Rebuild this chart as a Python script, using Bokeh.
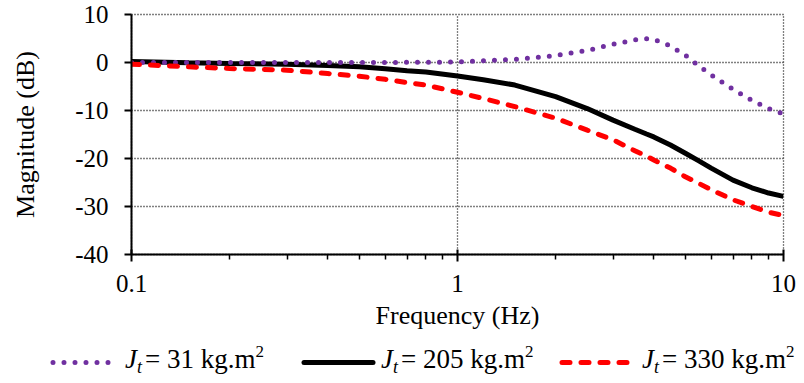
from bokeh.plotting import figure
from bokeh.models import Range1d, FixedTicker, Div
from bokeh.layouts import column
from bokeh.embed import file_html
from bokeh.resources import INLINE

# ---------------- data ----------------
freq_hz = [0.1, 0.15, 0.2, 0.3, 0.4, 0.5, 0.6, 0.7, 0.8, 1.0, 1.2, 1.5, 2.0, 2.5,
           3.0, 3.5, 3.8, 4.0, 4.5, 5.0, 5.5, 6.0, 7.0, 8.0, 9.0, 10.0]
mag_31 = [0.0, 0.0, 0.0, 0.0, 0.0, 0.0, 0.0, 0.05, 0.05, 0.1, 0.35, 0.66, 1.45, 2.5,
          3.8, 4.7, 4.95, 4.8, 3.45, 1.5, -0.7, -2.6, -5.6, -7.9, -9.6, -10.7]
mag_205 = [0.2, -0.05, -0.2, -0.35, -0.6, -0.9, -1.3, -1.7, -2.0, -2.8, -3.6, -4.7, -7.1, -9.6,
           -12.0, -13.9, -14.9, -15.5, -17.2, -18.9, -20.5, -22.0, -24.5, -26.1, -27.2, -27.9]
mag_330 = [-0.35, -0.9, -1.25, -1.6, -2.3, -2.85, -3.5, -4.2, -4.7, -6.2, -7.5, -9.2, -11.6, -14.1,
           -16.1, -18.4, -19.5, -20.3, -22.0, -23.8, -25.2, -26.5, -28.6, -30.0, -31.2, -31.9]
series_jt = ["31", "205", "330"]
series_colors = ["#7030A0", "black", "#FF0000"]

x_ticks = [0.1, 1, 10]
x_tick_labels = ["0.1", "1", "10"]
x_minor_ticks = [0.2, 0.3, 0.4, 0.5, 0.6, 0.7, 0.8, 0.9, 2, 3, 4, 5, 6, 7, 8, 9]
y_ticks = [-40, -30, -20, -10, 0, 10]
y_tick_labels = ["-40", "-30", "-20", "-10", "0", "10"]
x_title = "Frequency (Hz)"
y_title = "Magnitude (dB)"

FONT = "Liberation Serif"
W = 796
MH = 332
LH = 43

# ---------------- main plot ----------------
p = figure(width=W, height=MH, x_axis_type="log", title=None,
           x_range=Range1d(0.1, 10), y_range=Range1d(-40, 10),
           output_backend="svg", toolbar_location=None,
           min_border_left=131, min_border_right=13, min_border_top=14, min_border_bottom=77)
p.background_fill_color = "white"
p.border_fill_color = "white"
p.outline_line_color = "black"
p.outline_line_dash = "1 2"
p.outline_line_width = 1.3

xt = FixedTicker(ticks=x_ticks, minor_ticks=x_minor_ticks)
yt = FixedTicker(ticks=y_ticks)
p.xaxis.ticker = xt
p.yaxis.ticker = yt
p.xgrid.ticker = xt
p.ygrid.ticker = yt
for g in (p.xgrid, p.ygrid):
    g.grid_line_color = "black"
    g.grid_line_dash = "1 2"
    g.grid_line_width = 1.3

p.xaxis.major_label_overrides = {t: s for t, s in zip(x_ticks, x_tick_labels)}
p.yaxis.major_label_overrides = {t: s for t, s in zip(y_ticks, y_tick_labels)}

for ax in (p.xaxis, p.yaxis):
    ax.axis_line_color = "black"
    ax.axis_line_width = 2
    ax.major_tick_line_color = "black"
    ax.major_tick_line_width = 2
    ax.major_label_text_font = FONT
    ax.major_label_text_font_size = "25px"
    ax.major_label_text_color = "black"
    ax.axis_label_text_font = FONT
    ax.axis_label_text_font_size = "26px"
    ax.axis_label_text_font_style = "normal"
    ax.axis_label_text_color = "black"

p.xaxis.major_tick_in = 5
p.xaxis.major_tick_out = 7
p.xaxis.minor_tick_in = 0
p.xaxis.minor_tick_out = 5
p.xaxis.minor_tick_line_color = "black"
p.xaxis.minor_tick_line_width = 1.5
p.xaxis.major_label_standoff = 13
p.xaxis.axis_label = x_title
p.xaxis.axis_label_standoff = 6

p.yaxis.major_tick_in = 0
p.yaxis.major_tick_out = 7
p.yaxis.minor_tick_line_color = None
p.yaxis.major_label_standoff = 16
p.yaxis.axis_label = y_title
p.yaxis.axis_label_standoff = 32

p.line(freq_hz, mag_205, line_color=series_colors[1], line_width=5)
p.line(freq_hz, mag_31, line_color=series_colors[0], line_width=5,
       line_dash="0 11", line_cap="round")
p.line(freq_hz, mag_330, line_color=series_colors[2], line_width=5,
       line_dash="8 11", line_cap="round")

# ---------------- legend strip (HTML text, SVG swatches) ----------------
swatch_x = [(53, 113), (304, 373), (562, 632)]
text_x = [125, 381, 642]
swatch_dash = ["0 11", "", "8 11"]
yc = 30.5
text_top = 13.5

svg_lines = []
for (x0, x1), col, dash in zip(swatch_x, series_colors, swatch_dash):
    da = f' stroke-dasharray="{dash}"' if dash else ""
    svg_lines.append(
        f'<line x1="{x0}" y1="{yc}" x2="{x1}" y2="{yc}" stroke="{col}" '
        f'stroke-width="5" stroke-linecap="round"{da}/>')
svg = (f'<svg width="{W}" height="{LH}" style="position:absolute;left:0;top:0">'
       + "".join(svg_lines) + "</svg>")

spans = []
for tx, jt in zip(text_x, series_jt):
    spans.append(
        f'<span style="position:absolute;left:{tx}px;top:{text_top}px;white-space:nowrap;'
        f'line-height:27px">'
        f'<i>J</i><span style="font-size:18px;font-style:italic;position:relative;top:5px;'
        f'margin-right:3px">t</span>= {jt} kg.m'
        f'<span style="font-size:17px;position:relative;top:-11px">2</span></span>')

html = (f'<div style="position:relative;width:{W}px;height:{LH}px;overflow:hidden;'
        f"font-family:'{FONT}',serif;font-size:27px;color:black;background:white\">"
        + svg + "".join(spans) + "</div>")

legend_div = Div(text=html, width=W, height=LH, margin=(0, 0, 0, 0))

layout = column(p, legend_div, spacing=0)
open("out.html", "w").write(file_html(layout, INLINE))
